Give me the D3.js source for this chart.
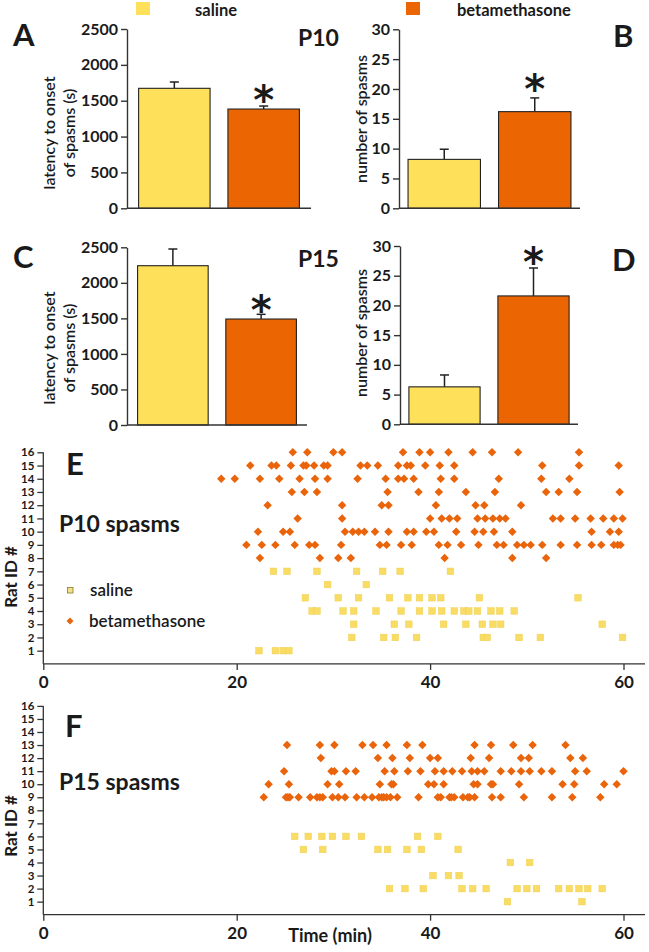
<!DOCTYPE html>
<html><head><meta charset="utf-8">
<script src="https://cdn.jsdelivr.net/npm/d3@7"></script>
<style>
body{margin:0;background:#fff}
svg{display:block}
text{font-family:Lato,"Open Sans",sans-serif;fill:#1a1a1a}
</style>
</head><body>
<svg id="c" width="649" height="952"></svg>
<script>
// ---------------- DATA ----------------
const groups = ["saline", "betamethasone"];
const latencyP10 = [1673, 1384];
const latencyP10Err = [88, 42];
const spasmsP10 = [8.2, 16.2];
const spasmsP10Err = [1.7, 2.3];
const latencyP15 = [2241, 1491];
const latencyP15Err = [235, 66];
const spasmsP15 = [6.3, 21.6];
const spasmsP15Err = [2.0, 4.7];
const latencyTicks = [0, 500, 1000, 1500, 2000, 2500];
const spasmTicks = [0, 5, 10, 15, 20, 25, 30];
const ratTicks = d3.range(1, 17);
const timeTicks = [0, 20, 40, 60];

// P10 raster: [rat id, spasm times (min)]
const p10Beta = [
  [16, [25.8, 27.3, 30.0, 30.9, 37.2, 38.9, 40.0, 41.9, 44.4, 46.4, 49.1, 55.4]],
  [15, [21.4, 23.6, 24.1, 25.6, 26.9, 27.2, 28.0, 29.0, 29.4, 32.8, 33.5, 34.6, 36.7, 37.6, 38.0, 39.5, 41.0, 42.5, 51.6, 55.4, 59.5]],
  [14, [18.4, 19.8, 22.4, 24.4, 26.5, 28.1, 29.4, 32.5, 35.4, 36.7, 37.3, 38.3, 41.1, 42.5, 47.1, 51.5, 54.4]],
  [13, [25.7, 27.0, 28.3, 35.6, 38.8, 40.9, 43.7, 46.7, 52.0, 53.3, 55.2, 59.6]],
  [12, [23.2, 30.9, 35.0, 35.7, 40.6, 44.7, 45.6, 49.4]],
  [11, [26.3, 30.9, 40.0, 41.2, 42.0, 42.8, 44.9, 45.7, 46.5, 47.2, 47.8, 52.7, 53.5, 55.0, 56.6, 57.9, 59.0, 59.9]],
  [10, [22.2, 24.8, 25.5, 31.2, 32.0, 32.6, 33.2, 34.3, 35.7, 37.6, 38.3, 39.6, 40.4, 42.7, 44.6, 45.5, 46.6, 48.5, 56.7, 58.6, 59.5]],
  [9, [21.0, 22.6, 24.0, 26.0, 27.5, 28.1, 30.8, 34.8, 35.5, 37.0, 38.1, 40.9, 41.8, 43.2, 45.0, 46.9, 47.6, 49.0, 49.7, 50.4, 51.6, 53.5, 55.2, 56.7, 57.7, 59.0, 59.4, 59.7]],
  [8, [22.4, 28.6, 30.5, 31.8, 41.5, 48.5, 52.0]]
];
const p10Saline = [
  [7, [23.8, 25.2, 28.3, 32.4, 35.1, 36.9, 42.1]],
  [6, [29.4, 33.4]],
  [5, [27.1, 30.5, 32.6, 35.8, 37.7, 38.9, 40.2, 41.1, 45.1, 55.3]],
  [4, [27.8, 28.3, 31.0, 32.1, 34.4, 37.0, 38.9, 40.2, 41.2, 42.5, 43.5, 44.0, 44.9, 46.3, 47.2, 48.7]],
  [3, [32.1, 36.3, 37.8, 41.4, 43.7, 45.4, 46.5, 47.3, 57.8]],
  [2, [31.9, 35.2, 36.4, 38.6, 45.5, 45.9, 49.2, 51.4, 59.9]],
  [1, [22.3, 24.0, 24.8, 25.4]]
];
// P15 raster
const p15Beta = [
  [13, [25.2, 28.6, 30.1, 33.0, 34.1, 35.5, 37.6, 39.2, 44.6, 46.3, 48.6, 50.6, 54.0]],
  [12, [28.7, 34.6, 36.1, 37.9, 40.0, 40.8, 44.2, 46.1, 49.4, 50.2, 54.5, 55.8]],
  [11, [24.9, 29.8, 30.1, 31.3, 32.3, 35.3, 36.3, 37.7, 39.0, 40.5, 41.4, 42.3, 43.3, 44.3, 44.9, 45.6, 47.3, 48.4, 49.4, 50.3, 51.5, 52.6, 55.0, 56.2, 60.0]],
  [10, [23.3, 25.4, 29.4, 30.6, 34.8, 36.0, 36.2, 39.8, 40.4, 41.4, 44.5, 44.9, 46.3, 46.5, 49.2, 53.7, 54.9, 58.0, 59.3]],
  [9, [22.8, 25.1, 25.3, 25.5, 26.4, 27.6, 28.3, 28.6, 28.9, 29.9, 30.5, 31.2, 32.4, 33.2, 34.0, 34.7, 35.0, 35.2, 35.5, 35.9, 36.6, 38.8, 40.8, 41.1, 42.0, 42.2, 42.5, 43.4, 43.9, 44.1, 44.6, 46.4, 47.3, 49.7, 52.6, 54.7, 57.6]]
];
const p15Saline = [
  [6, [26.0, 27.4, 28.8, 29.9, 31.3, 32.9, 38.7, 40.8]],
  [5, [26.9, 28.9, 34.6, 35.6, 37.6, 39.1, 42.9]],
  [4, [48.3, 50.3]],
  [3, [40.3, 41.9, 43.0]],
  [2, [35.8, 37.4, 39.3, 43.3, 44.4, 45.8, 49.0, 50.0, 51.0, 53.3, 54.4, 55.4, 56.3, 57.8]],
  [1, [48.0, 55.7]]
];

// ---------------- STYLE ----------------
const barColors = ["#FEE05A", "#EC6503"];
const dotSaline = "#F9DC63";
const dotBeta = "#E9640B";
const INK = "#1a1a1a";
const svg = d3.select("#c");

function txt(x, y, s, size, opts = {}) {
  const t = svg.append("text").attr("x", x).attr("y", y).text(s)
    .attr("font-size", size).attr("font-weight", opts.weight || 700)
    .attr("text-anchor", opts.anchor || "start");
  if (opts.rotate) t.attr("transform", `rotate(-90,${x},${y})`);
  if (opts.family) t.style("font-family", opts.family);
  return t;
}

// ---------------- TOP LEGEND ----------------
const topLegend = d3.scaleOrdinal().domain(groups).range([136, 406]);
groups.forEach((g, i) => {
  svg.append("rect").attr("x", topLegend(g)).attr("y", 2).attr("width", 14).attr("height", 13).attr("fill", barColors[i]);
  txt(topLegend(g) + (i ? 51 : 59), 16, g, 16.5, {weight: 700});
});

// ---------------- BAR PANELS ----------------
function barPanel(o) {
  const x = d3.scaleBand().domain(groups).range([o.x0, o.x1]).paddingInner(0.2).paddingOuter(o.po);
  const y = d3.scaleLinear().domain([0, o.max]).range([o.y0, o.y1]);
  const g = svg.append("g");
  groups.forEach((d, i) => {
    const cx = x(d) + x.bandwidth() / 2;
    g.append("line").attr("x1", cx).attr("x2", cx).attr("y1", y(o.values[i])).attr("y2", y(o.values[i] + o.errs[i]))
      .attr("stroke", "#222").attr("stroke-width", 1.5);
    g.append("line").attr("x1", cx - 4.5).attr("x2", cx + 4.5).attr("y1", y(o.values[i] + o.errs[i])).attr("y2", y(o.values[i] + o.errs[i]))
      .attr("stroke", "#222").attr("stroke-width", 1.5);
  });
  g.selectAll("rect.bar").data(groups).join("rect").attr("class", "bar")
    .attr("x", d => x(d)).attr("width", x.bandwidth())
    .attr("y", (d, i) => y(o.values[i])).attr("height", (d, i) => o.y0 - y(o.values[i]))
    .attr("fill", (d, i) => barColors[i]).attr("stroke", "#222").attr("stroke-width", 1.1);
  const ax = g.append("g").attr("transform", `translate(${o.x0},0)`)
    .call(d3.axisLeft(y).tickValues(o.ticks).tickFormat(d3.format("d")).tickSize(6).tickPadding(3).tickSizeOuter(0));
  ax.selectAll("path,line").attr("stroke", "#333").attr("stroke-width", 1.4);
  ax.selectAll("text").attr("font-size", 16).attr("font-weight", 700).style("font-family", "Lato,sans-serif").attr("fill", INK);
  g.append("line").attr("x1", o.x0).attr("x2", o.x1).attr("y1", o.y0).attr("y2", o.y0).attr("stroke", "#333").attr("stroke-width", 1.4);
  const sx = x(groups[1]) + x.bandwidth() / 2;
  const top = y(o.values[1] + o.errs[1]);
  txt(sx, top + o.sd, "*", 40, {anchor: "middle", weight: 700, family: "DejaVu Sans"});
  o.label.forEach((l, k) => txt(o.lx + k * 20, o.ly, l, 16, {anchor: "middle", rotate: true, weight: 600}));
}

barPanel({x0: 127, x1: 311, y0: 208.3, y1: 29, max: 2500, ticks: latencyTicks, values: latencyP10, errs: latencyP10Err, po: 0.13,
  label: ["latency to onset", "of spasms (s)"], lx: 55, ly: 133, sd: 8});
barPanel({x0: 399, x1: 580, y0: 208.3, y1: 29.3, max: 30, ticks: spasmTicks, values: spasmsP10, errs: spasmsP10Err, po: 0.1,
  label: ["number of spasms"], lx: 367, ly: 119, sd: 5});
barPanel({x0: 127, x1: 307, y0: 425, y1: 247.3, max: 2500, ticks: latencyTicks, values: latencyP15, errs: latencyP15Err, po: 0.12,
  label: ["latency to onset", "of spasms (s)"], lx: 55, ly: 348, sd: 10});
barPanel({x0: 400, x1: 578, y0: 424.3, y1: 246, max: 30, ticks: spasmTicks, values: spasmsP15, errs: spasmsP15Err, po: 0.1,
  label: ["number of spasms"], lx: 367, ly: 333, sd: 8});

// panel letters / titles
txt(13, 46, "A", 31);
txt(298, 46, "P10", 23);
txt(613, 47, "B", 31);
txt(13, 268, "C", 31);
txt(298, 267, "P15", 23);
txt(612, 271, "D", 31);

// ---------------- RASTERS ----------------
const xT = d3.scaleLinear().domain([0, 60]).range([43.3, 623.5]);
const diamond = d3.symbol().type(d3.symbolSquare).size(36)();

function raster(o) {
  const y = d3.scaleLinear().domain([0, 16]).range([o.y0, o.y1]);
  const g = svg.append("g");
  const flat = (arr) => arr.flatMap(([rat, ts]) => ts.map(t => ({rat, t})));
  g.selectAll("rect.sal").data(flat(o.saline)).join("rect").attr("class", "sal")
    .attr("x", d => xT(d.t) - 3.3).attr("y", d => y(d.rat) - 3.3).attr("width", 6.6).attr("height", 6.6)
    .attr("fill", dotSaline).attr("stroke", "#EFCF55").attr("stroke-width", 0.5);
  g.selectAll("path.bet").data(flat(o.beta)).join("path").attr("class", "bet")
    .attr("d", diamond).attr("transform", d => `translate(${xT(d.t)},${y(d.rat)}) rotate(45)`)
    .attr("fill", dotBeta);
  const ay = g.append("g").attr("transform", `translate(${xT(0)},0)`)
    .call(d3.axisLeft(y).tickValues(ratTicks).tickSize(6).tickPadding(3).tickSizeOuter(0));
  ay.select(".domain").attr("d", `M-0,${y(16)}V${y(0)}`);
  ay.selectAll("path,line").attr("stroke", "#333").attr("stroke-width", 1.3);
  ay.selectAll("text").attr("font-size", 11.5).attr("font-weight", 700).style("font-family", "Lato,sans-serif").attr("fill", INK);
  const axx = g.append("g").attr("transform", `translate(0,${o.y0})`)
    .call(d3.axisBottom(xT).tickValues(timeTicks).tickSize(6).tickPadding(6).tickSizeOuter(0));
  axx.select(".domain").attr("d", `M${xT(0)},0H645`);
  axx.selectAll("path,line").attr("stroke", "#333").attr("stroke-width", 1.3);
  axx.selectAll("text").attr("font-size", 17).attr("font-weight", 700).style("font-family", "Lato,sans-serif").attr("fill", INK);
  txt(17, o.ratY, "Rat ID #", 17, {anchor: "middle", rotate: true, weight: 700});
}

raster({y0: 663.9, y1: 452.3, beta: p10Beta, saline: p10Saline, ratY: 577});
raster({y0: 914.7, y1: 705.9, beta: p15Beta, saline: p15Saline, ratY: 826});

txt(66, 475, "E", 31);
txt(59, 532, "P10 spasms", 23);
txt(65, 737, "F", 31);
txt(59, 790, "P15 spasms", 23);
txt(330, 942, "Time (min)", 18, {anchor: "middle"});

// raster legend
svg.append("rect").attr("x", 67.5).attr("y", 587.5).attr("width", 5.5).attr("height", 5.5)
  .attr("fill", "#F5E08A").attr("stroke", "#8a7a30").attr("stroke-width", 0.8);
svg.append("path").attr("d", d3.symbol().type(d3.symbolSquare).size(24)()).attr("transform", "translate(70,621) rotate(45)").attr("fill", dotBeta);
txt(90, 596, "saline", 17, {weight: 600});
txt(89, 627, "betamethasone", 17, {weight: 600});
</script>
</body></html>
